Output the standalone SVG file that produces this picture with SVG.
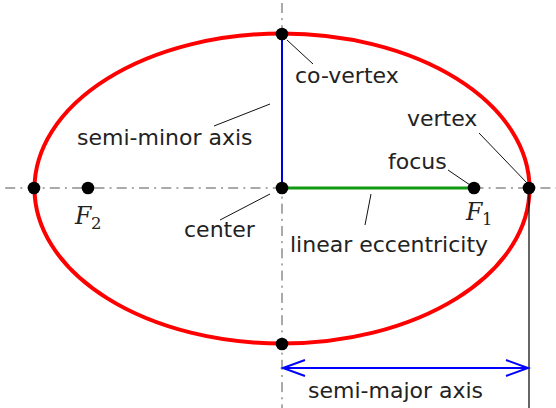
<svg xmlns="http://www.w3.org/2000/svg" width="556" height="408" viewBox="0 0 556 408">
<defs>
<style>
.axis{stroke:#555;stroke-width:1;fill:none;stroke-dasharray:10 5.15 2 5.15}
.lead{stroke:#111;stroke-width:1;fill:none}
.dot{fill:#000}
.lbl{font-family:"DejaVu Sans",sans-serif;font-size:22px;fill:#222}
.mF{font-family:"DejaVu Serif",serif;font-size:23.5px;font-style:italic;fill:#222}
.mSub{font-family:"DejaVu Serif",serif;font-size:16.5px;fill:#222}
</style>
<marker id="vhead" markerUnits="userSpaceOnUse" markerWidth="30" markerHeight="22" viewBox="-25 -11 28 22" refX="0" refY="0" orient="auto-start-reverse">
<path d="M -22 -8 L 0 0 L -22 8" fill="none" stroke="#0000ff" stroke-width="2"/>
</marker>
</defs>
<rect width="556" height="408" fill="#fff"/>
<g id="axes">
<line class="axis" x1="0" y1="188" x2="556" y2="188" stroke-dashoffset="17.1"/>
<line class="axis" x1="282" y1="3" x2="282" y2="408"/>
</g>
<g id="ellipse">
<ellipse cx="282" cy="188.5" rx="247.5" ry="155" fill="none" stroke="#ff0000" stroke-width="4"/>
</g>
<g id="semi-minor">
<line x1="282" y1="188" x2="282" y2="34" stroke="#0000dd" stroke-width="2"/>
<text class="lbl" x="77" y="145">semi-minor axis</text>
</g>
<g id="linear-eccentricity">
<line x1="282" y1="188" x2="474" y2="188" stroke="#119911" stroke-width="3"/>
<text class="lbl" x="290" y="252">linear eccentricity</text>
</g>
<g id="connectors">
<line class="lead" x1="287" y1="40" x2="313" y2="64"/>
<line class="lead" x1="214" y1="126" x2="270" y2="104"/>
<line class="lead" x1="220" y1="220" x2="270" y2="194"/>
<line class="lead" x1="365" y1="225" x2="371" y2="194"/>
<line class="lead" x1="448" y1="170" x2="470" y2="185"/>
<line class="lead" x1="479" y1="133" x2="527" y2="183"/>
<line x1="529" y1="188" x2="529" y2="408" stroke="#000" stroke-width="1.2"/>
<line x1="283" y1="368" x2="528" y2="368" stroke="#0000ff" stroke-width="2" marker-start="url(#vhead)" marker-end="url(#vhead)"/>
</g>
<g id="co-vertex">
<circle class="dot" cx="282" cy="34" r="6.3"/>
<text class="lbl" x="295" y="83">co-vertex</text>
</g>
<g id="co-vertex-bottom">
<circle class="dot" cx="282" cy="344" r="6.3"/>
</g>
<g id="center">
<circle class="dot" cx="282" cy="188" r="6.3"/>
<text class="lbl" x="184" y="237">center</text>
</g>
<g id="vertex">
<circle class="dot" cx="529" cy="188" r="6.3"/>
<text class="lbl" x="407" y="126">vertex</text>
</g>
<g id="vertex-left">
<circle class="dot" cx="34" cy="188" r="6.3"/>
</g>
<g id="focus1">
<circle class="dot" cx="474" cy="188" r="6.3"/>
<text class="lbl" x="388" y="169">focus</text>
<text class="mF" x="466" y="220">F</text>
<text class="mSub" x="482" y="225">1</text>
</g>
<g id="focus2">
<circle class="dot" cx="88" cy="188" r="6.3"/>
<text class="mF" x="75" y="224">F</text>
<text class="mSub" x="91" y="229">2</text>
</g>
<g id="semi-major">
<text class="lbl" x="308" y="398">semi-major axis</text>
</g>
</svg>
